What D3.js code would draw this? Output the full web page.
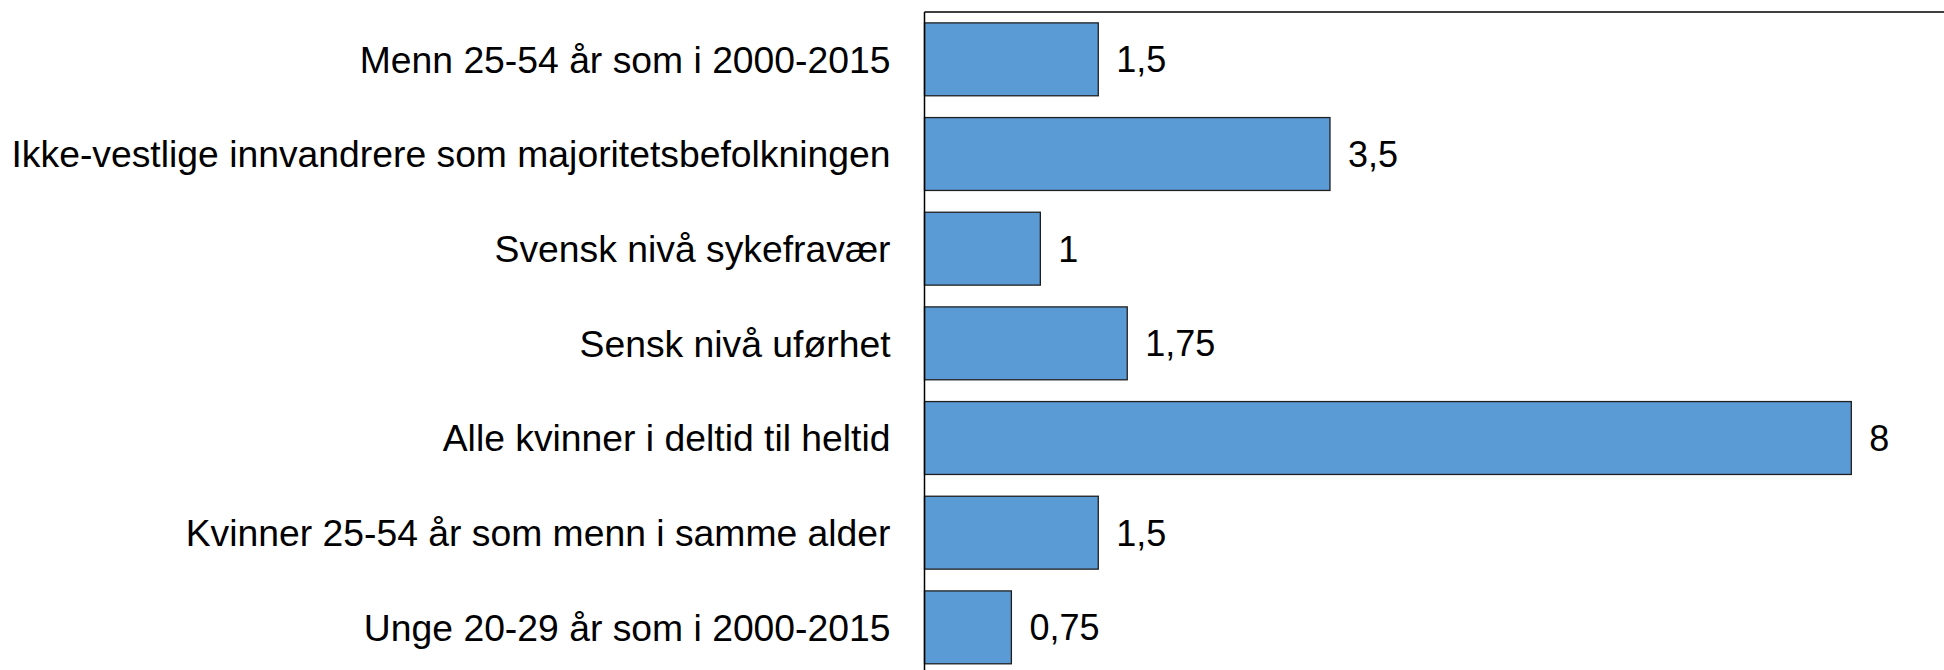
<!DOCTYPE html>
<html>
<head>
<meta charset="utf-8">
<script src="https://cdn.jsdelivr.net/npm/d3@7"></script>
<style>
  body { margin: 0; background: #fff; }
  text { font-family: "Liberation Sans", Arial, sans-serif; fill: #000; }
</style>
</head>
<body>
<div class="chart"></div>
<script>
// data
var categories = [
	"Menn 25-54 år som i 2000-2015",
	"Ikke-vestlige innvandrere som majoritetsbefolkningen",
	"Svensk nivå sykefravær",
	"Sensk nivå uførhet",
	"Alle kvinner i deltid til heltid",
	"Kvinner 25-54 år som menn i samme alder",
	"Unge 20-29 år som i 2000-2015"
];
var values = [1.5, 3.5, 1, 1.75, 8, 1.5, 0.75];
var valueLabels = ["1,5", "3,5", "1", "1,75", "8", "1,5", "0,75"];

var svgWidth = 1944, svgHeight = 670;
var axisX = 924.5, plotTop = 12;

var svg = d3.select(".chart")
	.append("svg")
	.attr("width", svgWidth)
	.attr("height", svgHeight);

var x = d3.scaleLinear()
	.domain([0, 8.8])
	.range([axisX, svgWidth]);

var y = d3.scaleBand()
	.domain(categories)
	.range([plotTop, plotTop + 7 * 94.67])
	.paddingInner(0.23)
	.paddingOuter(0.115);

// bars
svg.selectAll(".bar")
	.data(values)
	.enter()
	.append("rect")
	.attr("class", "bar")
	.attr("x", x(0))
	.attr("y", function (d, i) { return y(categories[i]); })
	.attr("width", function (d) { return x(d) - x(0); })
	.attr("height", y.bandwidth())
	.attr("fill", "#5B9BD5")
	.attr("stroke", "#1f1f1f")
	.attr("stroke-width", 1.3);

// value labels
svg.selectAll(".val")
	.data(values)
	.enter()
	.append("text")
	.attr("class", "val")
	.attr("x", function (d) { return x(d) + 18; })
	.attr("y", function (d, i) { return y(categories[i]) + y.bandwidth() / 2; })
	.attr("dy", "0.36em")
	.style("font-size", "36px")
	.text(function (d, i) { return valueLabels[i]; });

// category axis
var yAxis = d3.axisLeft(y).tickSize(0).tickPadding(34);
var gy = svg.append("g")
	.attr("transform", "translate(" + axisX + ",0)")
	.call(yAxis);
gy.select(".domain").remove();
gy.selectAll("text")
	.style("font-size", "37.3px")
	.attr("dy", "0.36em")
	.attr("font-family", null);

// frame lines: left axis and top
svg.append("line")
	.attr("x1", axisX).attr("x2", axisX)
	.attr("y1", plotTop).attr("y2", svgHeight)
	.attr("stroke", "#000").attr("stroke-width", 1.5);
svg.append("line")
	.attr("x1", axisX).attr("x2", svgWidth)
	.attr("y1", plotTop).attr("y2", plotTop)
	.attr("stroke", "#000").attr("stroke-width", 1.5);
</script>
</body>
</html>
